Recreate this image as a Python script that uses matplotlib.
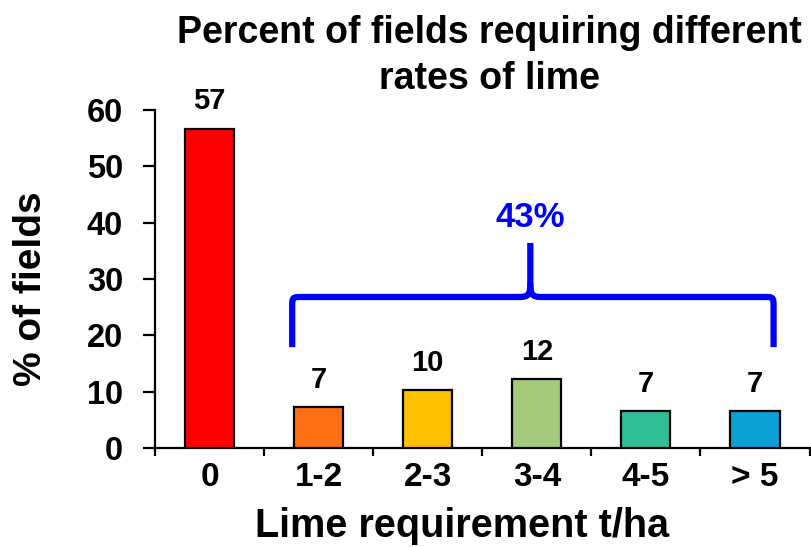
import matplotlib
matplotlib.use("Agg")
import matplotlib.pyplot as plt
from matplotlib.path import Path
from matplotlib.patches import PathPatch
import numpy as np

plt.rcParams['font.family'] = ['Liberation Sans', 'DejaVu Sans']
plt.rcParams['font.weight'] = 'bold'

categories = ["0", "1-2", "2-3", "3-4", "4-5", "> 5"]
values = [56.7, 7.3, 10.3, 12.3, 6.6, 6.6]
labels = ["57", "7", "10", "12", "7", "7"]
colors = ["#FF0000", "#FF7014", "#FFC000", "#A6CA7C", "#30BE98", "#0BA0D6"]
brace_text = "43%"
title_lines = ["Percent of fields requiring different", "rates of lime"]
yticks = [0, 10, 20, 30, 40, 50, 60]

W, H = 812, 547
fig = plt.figure(figsize=(W / 100, H / 100), dpi=100)
ax = fig.add_axes([0.191, 0.181, 0.806, 0.618])

x = np.arange(len(categories))
ax.bar(x, values, width=0.45, color=colors, edgecolor="black", linewidth=1.6, zorder=3)
for xi, v, lab in zip(x, values, labels):
    ax.text(xi, v + 3.4, lab, ha="center", va="baseline", fontsize=21, fontweight="bold")

ax.set_xlim(-0.5, len(categories) - 0.5)
ax.set_ylim(0, 60)
ax.set_yticks(yticks)
ax.set_yticklabels([str(t) for t in yticks], fontsize=23.5, fontweight="bold")
ax.set_xticks(x)
ax.set_xticklabels(categories, fontsize=24, fontweight="bold")
ax.tick_params(axis="x", which="major", length=0, pad=10)
ax.set_xticks(np.arange(-0.5, len(categories) + 0.5, 1), minor=True)
ax.tick_params(axis="x", which="minor", length=6, width=1.6, direction="out")
ax.tick_params(axis="y", length=9, width=1.6, direction="out", pad=14)
for s in ["top", "right"]:
    ax.spines[s].set_visible(False)
for s in ["left", "bottom"]:
    ax.spines[s].set_linewidth(1.6)

fig.text(462 / W, 1 - 537 / H, "Lime requirement t/ha", ha="center", va="baseline",
         fontsize=28.5, fontweight="bold")
fig.text(31 / W, 1 - 289 / H, "% of fields", ha="center", va="center", rotation=90,
         fontsize=28, fontweight="bold")
for line, base in zip(title_lines, [43, 89]):
    fig.text(0.603, 1 - base / H, line, ha="center", va="baseline",
             fontsize=27, fontweight="bold")

# brace spanning the limed categories
xl, xr, xm = 0.757, 5.17, 2.94
yb, yh, yt = 17.9, 26.8, 36.4
dx, dy = 0.09, 1.8
verts = [
    (xl, yb), (xl, yh - dy),
    (xl, yh), (xl, yh), (xl + dx, yh),
    (xm - 0.1, yh),
    (xm - 0.01, yh), (xm, yh + 0.6), (xm, yh + 2.5),
    (xm, yt),
]
codes = [Path.MOVETO, Path.LINETO, Path.CURVE4, Path.CURVE4, Path.CURVE4, Path.LINETO,
         Path.CURVE4, Path.CURVE4, Path.CURVE4, Path.LINETO]
verts2 = [
    (xm, yh + 2.5), (xm, yh + 0.6), (xm + 0.01, yh), (xm + 0.1, yh),
    (xr - dx, yh),
    (xr, yh), (xr, yh), (xr, yh - dy),
    (xr, yb),
]
codes2 = [Path.MOVETO, Path.CURVE4, Path.CURVE4, Path.CURVE4, Path.LINETO,
          Path.CURVE4, Path.CURVE4, Path.CURVE4, Path.LINETO]
for vv, cc in [(verts, codes), (verts2, codes2)]:
    ax.add_patch(PathPatch(Path(vv, cc), facecolor="none", edgecolor="#0000FF",
                           linewidth=4.5, capstyle="butt", joinstyle="round", clip_on=False, zorder=4))
ax.text(xm, 39.3, brace_text, ha="center", va="baseline", color="#0000FF",
        fontsize=25, fontweight="bold")

fig.savefig("out.png", dpi=100)
